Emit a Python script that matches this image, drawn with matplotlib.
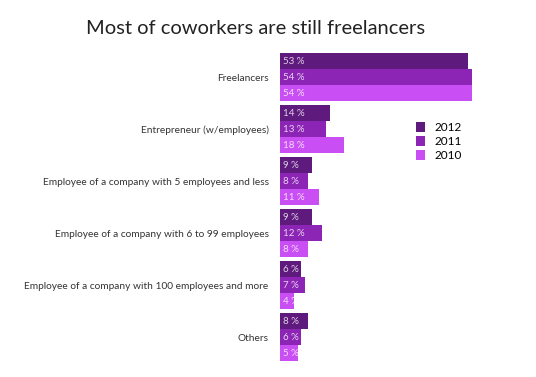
import numpy as np
import matplotlib.pyplot as plt
from matplotlib.patches import Patch

categories = [
    "Freelancers",
    "Entrepreneur (w/employees)",
    "Employee of a company with 5 employees and less",
    "Employee of a company with 6 to 99 employees",
    "Employee of a company with 100 employees and more",
    "Others",
]
years = ["2012", "2011", "2010"]
v2012 = [53, 14, 9, 9, 6, 8]
v2011 = [54, 13, 8, 12, 7, 6]
v2010 = [54, 18, 11, 8, 4, 5]
colors = ["#5f1a7e", "#8c24b5", "#c94ff4"]

plt.rcParams['font.family'] = ['Lato', 'DejaVu Sans']

fig = plt.figure(figsize=(5.36, 3.77), dpi=100)
ax = fig.add_axes([0.522, 0.0424, 0.378, 0.8170])

pitch = 3.25
base = np.arange(len(categories)) * pitch
for j, (vals, col) in enumerate(zip([v2012, v2011, v2010], colors)):
    ypos = base + j
    ax.barh(ypos, vals, height=1.0, color=col, edgecolor='none', label=years[j])
    for y, v in zip(ypos, vals):
        ax.text(0.9, y, f"{v} %", va='center', ha='left', fontsize=7,
                color='white', alpha=0.8)

ax.set_xlim(0, 57)
ax.set_ylim(base[-1] + 2.5, -0.5)
ax.set_yticks(base + 1)
ax.set_yticklabels(categories, fontsize=7.3, color='#333333')
ax.tick_params(axis='y', length=0, pad=8)
ax.set_xticks([])
for s in ax.spines.values():
    s.set_visible(False)

handles = [Patch(facecolor=c, edgecolor='none', label=y) for c, y in zip(colors, years)]
ax.legend(handles=handles, loc='upper left', bbox_to_anchor=(0.62, 0.81),
          frameon=False, fontsize=8.5, handlelength=0.8, handleheight=0.9,
          handletextpad=0.8, labelspacing=0.25)

fig.text(0.477, 0.925, "Most of coworkers are still freelancers", ha='center',
         va='center', fontsize=14.5, color='#222222')

fig.savefig("out.png", dpi=100)
